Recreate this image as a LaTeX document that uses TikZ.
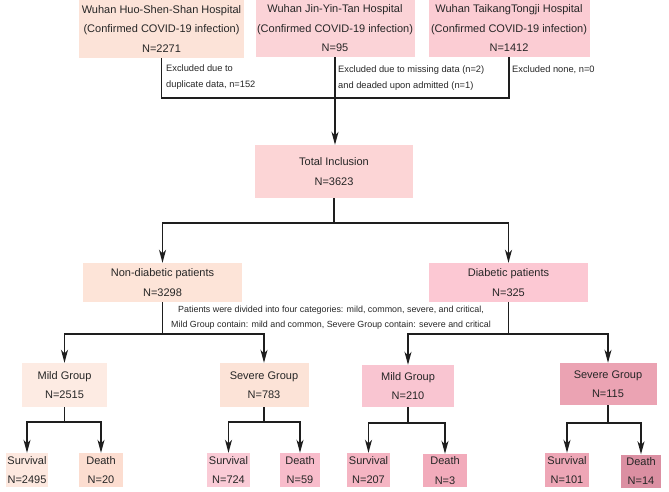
\documentclass[tikz,border=0pt]{standalone}
\usepackage{fontspec}
\setmainfont{Liberation Sans}
\usetikzlibrary{arrows.meta}
\definecolor{txt}{HTML}{262626}
\definecolor{ln}{HTML}{1E1E1E}
\definecolor{cHuo}{HTML}{FCE3D8}
\definecolor{cJin}{HTML}{FBD3D7}
\definecolor{cTai}{HTML}{FBCCD3}
\definecolor{cTot}{HTML}{FCD5D6}
\definecolor{cND}{HTML}{FDE4D8}
\definecolor{cD}{HTML}{FCC8D3}
\definecolor{cMND}{HTML}{FDEBE3}
\definecolor{cSND}{HTML}{FCE3D7}
\definecolor{cSa}{HTML}{FDE8DF}
\definecolor{cDa}{HTML}{FCDDD0}
\definecolor{cSb}{HTML}{FACBD6}
\definecolor{cDb}{HTML}{F8BCCB}
\definecolor{cMD}{HTML}{F9C5D1}
\definecolor{cSc}{HTML}{F5B5C3}
\definecolor{cDc}{HTML}{F2ABBB}
\definecolor{cSD}{HTML}{EBA3B3}
\definecolor{cSd}{HTML}{EEA6B6}
\definecolor{cDd}{HTML}{DB8FA2}
\tikzset{
  box/.style={rectangle, inner sep=0pt, text=txt, align=center,
    font=\fontsize{11}{19.5}\selectfont},
  note/.style={inner sep=0pt, text=txt, align=left,
    font=\fontsize{9.3}{16}\selectfont},
  conn/.style={draw=ln, line width=1.3pt},
  arr/.style={conn, -{Stealth[length=13pt,width=7pt,inset=3.5pt]}},
}
\begin{document}
\begin{tikzpicture}[x=1pt,y=-1pt]
\useasboundingbox (0,0) rectangle (669,492);
% top hospitals
\node[box, fill=cHuo, minimum width=165pt, minimum height=58pt] (huo) at (161.5,29)
  {Wuhan Huo-Shen-Shan Hospital\\(Confirmed COVID-19 infection)\\N=2271};
\node[box, fill=cJin, minimum width=159pt, minimum height=57pt] (jin) at (335,28.5)
  {Wuhan Jin-Yin-Tan Hospital\\(Confirmed COVID-19 infection)\\N=95};
\node[box, fill=cTai, minimum width=161pt, minimum height=57pt] (tai) at (509,28.5)
  {Wuhan TaikangTongji Hospital\\(Confirmed COVID-19 infection)\\N=1412};
\coordinate (jtop) at (335,98);
\node[note, anchor=west] (ex1) at (166,77.5) {Excluded due to\\duplicate data, n=152};
\node[note, anchor=west] (ex2) at (338,78) {Excluded due to missing data (n=2)\\and deaded upon admitted (n=1)};
\node[note, anchor=west] (ex3) at (512,69.5) {Excluded none, n=0};
% total
\node[box, fill=cTot, minimum width=158pt, minimum height=53pt,
  font=\fontsize{11}{20}\selectfont] (tot) at (334,171.5) {Total Inclusion\\N=3623};
\draw[conn] (huo.south) |- (tai.south |- jtop) -- (tai.south);
\draw[arr] (jin.south) -- (jin.south |- tot.north);
% diabetic split
\node[box, fill=cND, minimum width=159pt, minimum height=39pt] (nd) at (162.5,282.5)
  {Non-diabetic patients\\N=3298};
\node[box, fill=cD, minimum width=159pt, minimum height=39pt] (d) at (508.5,282.5)
  {Diabetic patients\\N=325};
\coordinate (s1) at (334,223);
\draw[conn] (tot.south) -- (s1);
\draw[arr] (s1) -| (nd.north);
\draw[arr] (s1) -| (d.north);
\node[note, align=center, font=\fontsize{8.9}{15.5}\selectfont] (cat) at (331,317.5)
  {Patients were divided into four categories: mild, common, severe, and critical,\\Mild Group contain: mild and common, Severe Group contain: severe and critical};
% groups
\node[box, fill=cMND, minimum width=85pt, minimum height=44pt] (mnd) at (64.5,385)
  {Mild Group\\N=2515};
\node[box, fill=cSND, minimum width=89pt, minimum height=44pt] (snd) at (264,385)
  {Severe Group\\N=783};
\node[box, fill=cMD, minimum width=92pt, minimum height=42pt] (md) at (408,386)
  {Mild Group\\N=210};
\node[box, fill=cSD, minimum width=97pt, minimum height=42pt] (sd) at (608,384)
  {Severe Group\\N=115};
\coordinate (s2) at (162.5,334);
\coordinate (s3) at (508.5,334);
\draw[conn] (nd.south) -- (s2);
\draw[arr] (s2) -| (mnd.north);
\draw[arr] (s2) -| (snd.north);
\draw[conn] (d.south) -- (s3);
\draw[arr] (s3) -| (md.north);
\draw[arr] (s3) -| (sd.north);
% outcomes
\node[box, fill=cSa, minimum width=42pt, minimum height=34pt] (sa) at (27,470) {Survival\\N=2495};
\node[box, fill=cDa, minimum width=44pt, minimum height=34pt] (da) at (101,470) {Death\\N=20};
\node[box, fill=cSb, minimum width=43pt, minimum height=34pt] (sb) at (228.5,470) {Survival\\N=724};
\node[box, fill=cDb, minimum width=40pt, minimum height=34pt] (db) at (300,470) {Death\\N=59};
\node[box, fill=cSc, minimum width=43pt, minimum height=34pt] (sc) at (368.5,470) {Survival\\N=207};
\node[box, fill=cDc, minimum width=44pt, minimum height=33pt] (dc) at (445,470.5) {Death\\N=3};
\node[box, fill=cSd, minimum width=44pt, minimum height=34pt] (sdd) at (567,470) {Survival\\N=101};
\node[box, fill=cDd, minimum width=40pt, minimum height=33pt] (ddd) at (641,471) {Death\\N=14};
\coordinate (t1) at (64.5,422);
\coordinate (t2) at (264,422);
\coordinate (t3) at (408,423);
\coordinate (t4) at (608,423);
\draw[conn] (mnd.south) -- (t1);
\draw[arr] (t1) -| (sa.north);
\draw[arr] (t1) -| (da.north);
\draw[conn] (snd.south) -- (t2);
\draw[arr] (t2) -| (sb.north);
\draw[arr] (t2) -| (db.north);
\draw[conn] (md.south) -- (t3);
\draw[arr] (t3) -| (sc.north);
\draw[arr] (t3) -| (dc.north);
\draw[conn] (sd.south) -- (t4);
\draw[arr] (t4) -| (sdd.north);
\draw[arr] (t4) -| (ddd.north);
\end{tikzpicture}
\end{document}
